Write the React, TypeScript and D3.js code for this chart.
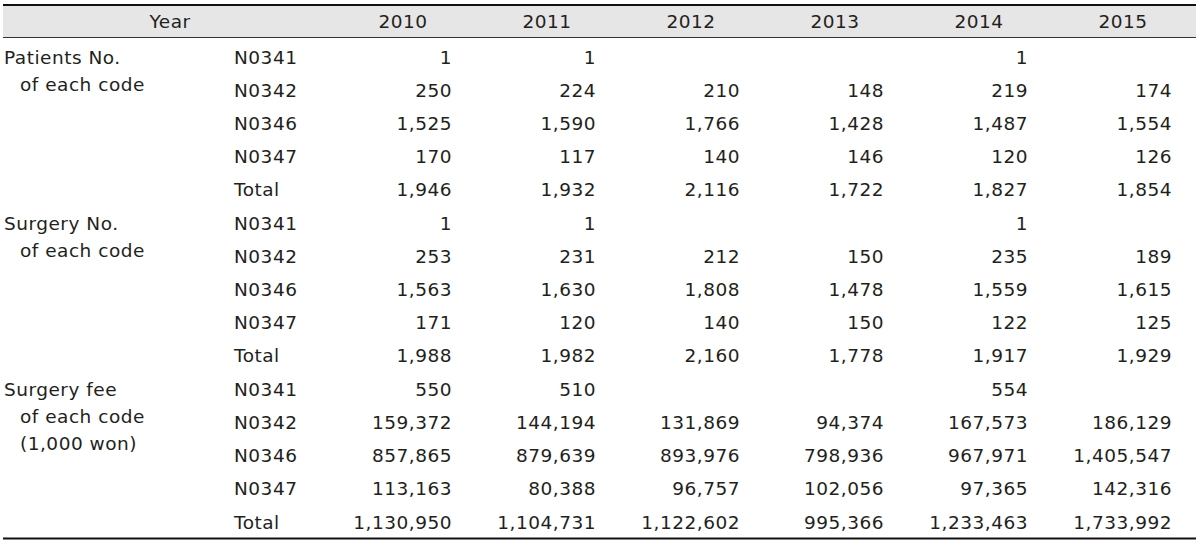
import * as d3 from "d3";

const years = ["2010", "2011", "2012", "2013", "2014", "2015"];
const codes = ["N0341", "N0342", "N0346", "N0347", "Total"];

const groupLabels = [
  ["Patients No.", "of each code"],
  ["Surgery No.", "of each code"],
  ["Surgery fee", "of each code", "(1,000 won)"],
];

// rows follow codes order, columns follow years
const patients: (number | null)[][] = [
  [1, 1, null, null, 1, null],
  [250, 224, 210, 148, 219, 174],
  [1525, 1590, 1766, 1428, 1487, 1554],
  [170, 117, 140, 146, 120, 126],
  [1946, 1932, 2116, 1722, 1827, 1854],
];

const surgeries: (number | null)[][] = [
  [1, 1, null, null, 1, null],
  [253, 231, 212, 150, 235, 189],
  [1563, 1630, 1808, 1478, 1559, 1615],
  [171, 120, 140, 150, 122, 125],
  [1988, 1982, 2160, 1778, 1917, 1929],
];

const fees: (number | null)[][] = [
  [550, 510, null, null, 554, null],
  [159372, 144194, 131869, 94374, 167573, 186129],
  [857865, 879639, 893976, 798936, 967971, 1405547],
  [113163, 80388, 96757, 102056, 97365, 142316],
  [1130950, 1104731, 1122602, 995366, 1233463, 1733992],
];

const groups = [patients, surgeries, fees];

const W = 1200;
const H = 546;
const FONT = "'DejaVu Sans', sans-serif";
const FS = 18.5;
const TXT = "#231f20";

export default function App() {
  const fmt = d3.format(",");
  const nRows = groups.length * codes.length;

  const x = d3.scaleBand<string>().domain(years).range([331, 1195]);
  const y = d3.scaleLinear().domain([0, nRows - 1]).range([57, 522]);

  const left = 3;
  const right = 1196;
  const headTop = 5;
  const headBottom = 37.5;

  return (
    <svg
      width={W}
      height={H}
      style={{ position: "absolute", left: 0, top: 0, background: "#fff" }}
      fontFamily={FONT}
      fontSize={FS}
      letterSpacing={0.5}
      fill={TXT}
    >
      <rect x={left} y={headTop} width={right - left} height={headBottom - headTop} fill="#e6e6e6" />
      <line x1={left} x2={right} y1={headTop} y2={headTop} stroke="#111" strokeWidth={2} />
      <line x1={left} x2={right} y1={headBottom} y2={headBottom} stroke="#333" strokeWidth={1} />
      <line x1={left} x2={right} y1={538.5} y2={538.5} stroke="#111" strokeWidth={2} />

      <text x={170} y={21} textAnchor="middle" dominantBaseline="central">
        Year
      </text>
      {years.map((yr) => (
        <text
          key={yr}
          x={x(yr)! + x.bandwidth() / 2}
          y={21}
          textAnchor="middle"
          dominantBaseline="central"
        >
          {yr}
        </text>
      ))}

      {groups.map((rows, g) => (
        <g key={g}>
          {groupLabels[g].map((lab, i) => (
            <text
              key={lab}
              x={i === 0 ? 4 : 20}
              y={y(g * codes.length) + i * 27}
              dominantBaseline="central"
            >
              {lab}
            </text>
          ))}
          {codes.map((c, r) => {
            const yy = y(g * codes.length + r);
            return (
              <g key={c}>
                <text x={234} y={yy} dominantBaseline="central">
                  {c}
                </text>
                {rows[r].map((v, j) =>
                  v == null ? null : (
                    <text
                      key={j}
                      x={x(years[j])! + x.bandwidth() / 2 + 49}
                      y={yy}
                      textAnchor="end"
                      dominantBaseline="central"
                    >
                      {fmt(v)}
                    </text>
                  )
                )}
              </g>
            );
          })}
        </g>
      ))}
    </svg>
  );
}
